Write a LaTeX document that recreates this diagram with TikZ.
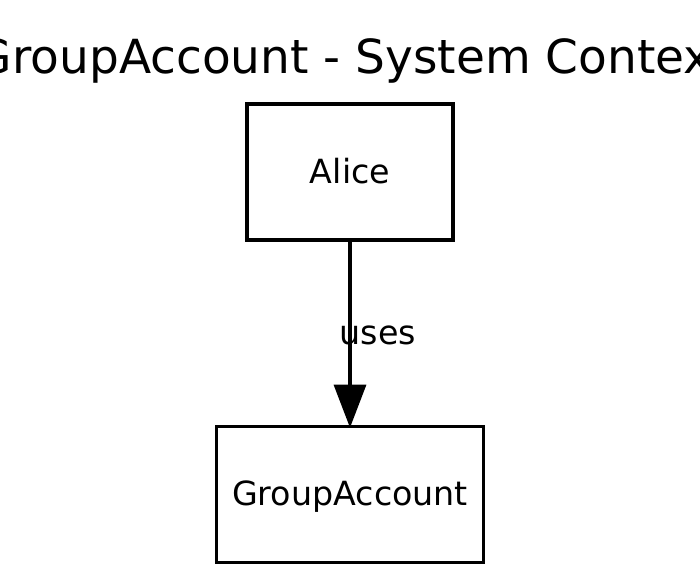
\documentclass[tikz,border=0pt]{standalone}
\usepackage{fontspec}
\setmainfont{DejaVu Sans}
\usetikzlibrary{arrows.meta}
\tikzset{
  box/.style={draw=black, line width=3.2pt, rectangle, minimum height=136pt,
    font=\fontsize{33.3pt}{40pt}\selectfont, text height=24pt, text depth=2pt, inner sep=0pt},
  rel/.style={draw=black, line width=3.2pt, -{Triangle[length=43pt,width=32pt]}},
  lbl/.style={font=\fontsize{33.3pt}{40pt}\selectfont, inner sep=0pt},
  ttl/.style={font=\fontsize{47pt}{56pt}\selectfont, inner sep=0pt}
}
\begin{document}
\begin{tikzpicture}[x=1pt,y=1pt]
\useasboundingbox (0,0) rectangle (700,-581);
\node[ttl, anchor=base] (title) at (353,-73) {GroupAccount - System Context};
\node[box, minimum width=206pt] (alice) at (350,-172) {Alice};
\node[box, minimum width=267pt] (ga) at (350,-494.3) {GroupAccount};
\draw[rel, shorten >=-3pt] (alice.south) -- (ga.north);
\node[lbl, anchor=base west] (uses) at (339.5,-344) {uses};
\end{tikzpicture}
\end{document}
